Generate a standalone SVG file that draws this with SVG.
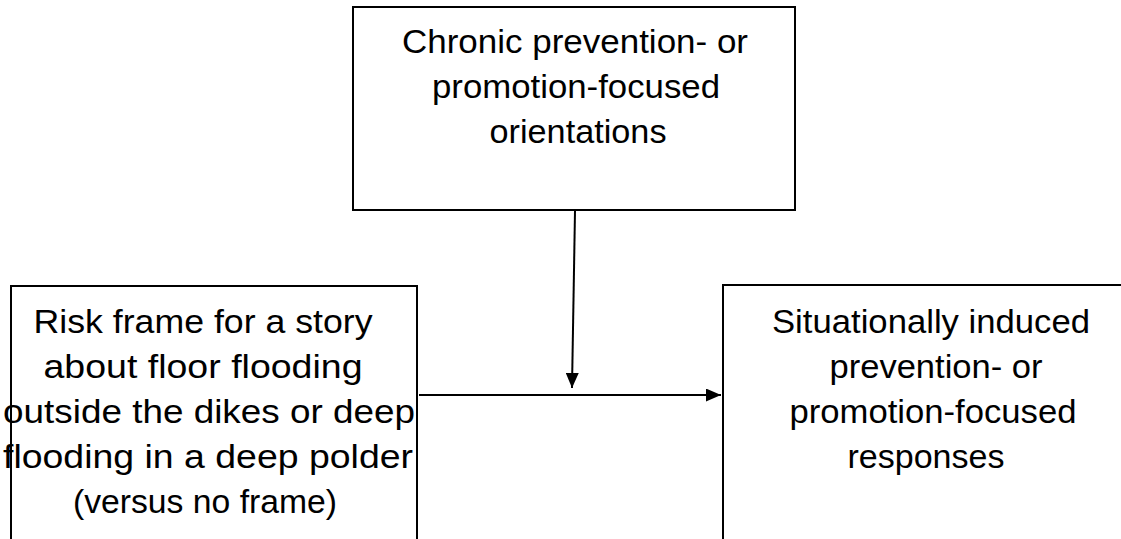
<svg xmlns="http://www.w3.org/2000/svg" width="1121" height="539" viewBox="0 0 1121 539">
<style>
.box{fill:#fff;stroke:#000;stroke-width:2}
.lbl{font-family:"Liberation Sans",Arial,sans-serif;font-size:34px;fill:#000;text-anchor:middle}
.conn{stroke:#000;stroke-width:2;fill:none}
</style>
<defs>
<marker id="ah" viewBox="0 0 15 13" refX="15" refY="6.5" markerWidth="15" markerHeight="13" markerUnits="userSpaceOnUse" orient="auto">
<path d="M0,0 L15,6.5 L0,13 Z" fill="#000"/>
</marker>
</defs>
<rect width="1121" height="539" fill="#fff"/>
<g id="node-chronic">
<rect class="box" x="353" y="7" width="442" height="203"/>
<text class="lbl" x="575" y="53" textLength="346" lengthAdjust="spacingAndGlyphs">Chronic prevention- or</text>
<text class="lbl" x="576" y="98" textLength="288" lengthAdjust="spacingAndGlyphs">promotion-focused</text>
<text class="lbl" x="578" y="143" textLength="177" lengthAdjust="spacingAndGlyphs">orientations</text>
</g>
<g id="node-risk">
<rect class="box" x="11" y="286" width="406" height="270"/>
<text class="lbl" x="203" y="333" textLength="339" lengthAdjust="spacingAndGlyphs">Risk frame for a story</text>
<text class="lbl" x="203" y="378" textLength="319" lengthAdjust="spacingAndGlyphs">about floor flooding</text>
<text class="lbl" x="209" y="423" textLength="412" lengthAdjust="spacingAndGlyphs">outside the dikes or deep</text>
<text class="lbl" x="208" y="468" textLength="410" lengthAdjust="spacingAndGlyphs">flooding in a deep polder</text>
<text class="lbl" x="205" y="513" textLength="264" lengthAdjust="spacingAndGlyphs">(versus no frame)</text>
</g>
<g id="node-situational">
<rect class="box" x="723" y="285" width="420" height="270"/>
<text class="lbl" x="931" y="333" textLength="318" lengthAdjust="spacingAndGlyphs">Situationally induced</text>
<text class="lbl" x="936" y="378" textLength="213" lengthAdjust="spacingAndGlyphs">prevention- or</text>
<text class="lbl" x="933" y="423" textLength="287" lengthAdjust="spacingAndGlyphs">promotion-focused</text>
<text class="lbl" x="926" y="468" textLength="157" lengthAdjust="spacingAndGlyphs">responses</text>
</g>
<g id="connectors">
<line class="conn" x1="575" y1="211" x2="572" y2="388" marker-end="url(#ah)"/>
<line class="conn" x1="419" y1="395" x2="721" y2="395" marker-end="url(#ah)"/>
</g>
</svg>
